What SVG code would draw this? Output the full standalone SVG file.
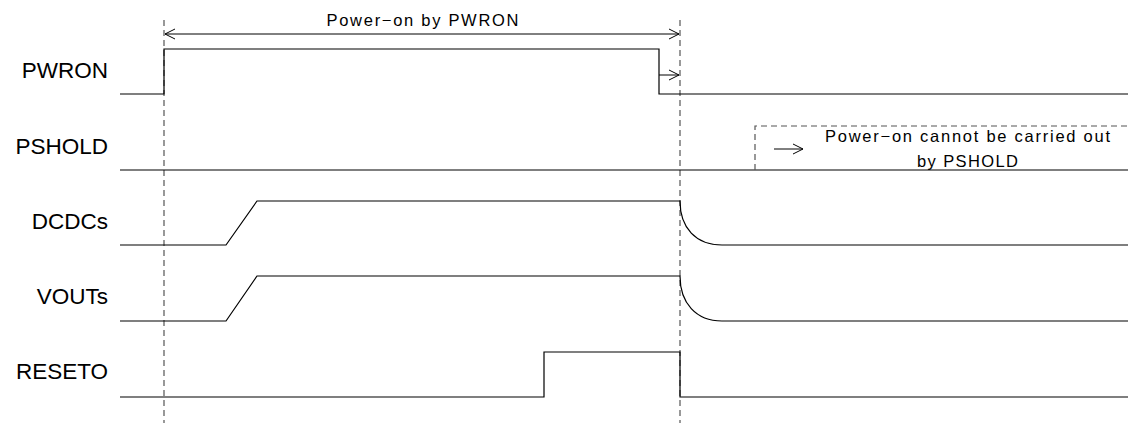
<svg xmlns="http://www.w3.org/2000/svg" width="1131" height="423" viewBox="0 0 1131 423">
<defs>
<style>
.sig{fill:none;stroke:#000;stroke-width:1.2}
.dash{fill:none;stroke:#555;stroke-width:1.2;stroke-dasharray:6,4}
.lbl{font-family:"Liberation Sans",Arial,sans-serif;font-size:22.5px;fill:#000;text-anchor:end}
.note{font-family:"Liberation Sans","Noto Sans CJK JP",sans-serif;font-size:16.5px;fill:#000;text-anchor:middle}
.arr{fill:none;stroke:#000;stroke-width:1}
</style>
<marker id="ah" markerWidth="12" markerHeight="12" refX="11" refY="6" orient="auto-start-reverse" markerUnits="userSpaceOnUse">
<path d="M1,1 L11,6 L1,11" fill="none" stroke="#000" stroke-width="1"/>
</marker>
</defs>
<rect width="1131" height="423" fill="#fff"/>
<g id="labels">
<text class="lbl" x="108" y="78">PWRON</text>
<text class="lbl" x="108" y="154">PSHOLD</text>
<text class="lbl" x="108" y="229">DCDCs</text>
<text class="lbl" x="108" y="304">VOUTs</text>
<text class="lbl" x="108" y="379">RESETO</text>
</g>
<g id="guides">
<line class="dash" x1="164" y1="20" x2="164" y2="423"/>
<line class="dash" x1="680" y1="20" x2="680" y2="423"/>
</g>
<g id="PWRON">
<path class="sig" d="M120,94 H164 V49 H659 V94 H1128"/>
</g>
<g id="PSHOLD">
<path class="sig" d="M120,170 H1128"/>
</g>
<g id="DCDCs">
<path class="sig" d="M120,245 H226 L257,201 H680 C680,228 696,245 722,245 H1128"/>
</g>
<g id="VOUTs">
<path class="sig" d="M120,321 H226 L257,276 H680 C680,303 696,321 722,321 H1128"/>
</g>
<g id="RESETO">
<path class="sig" d="M120,397 H544 V352 H680 V397 H1128"/>
</g>
<g id="annotations">
<line class="arr" x1="165" y1="34" x2="679" y2="34" marker-start="url(#ah)" marker-end="url(#ah)"/>
<text class="note" x="422.5" y="26" textLength="192" lengthAdjust="spacing">Power−on by PWRON</text>
<line class="arr" x1="659" y1="75" x2="679" y2="75" marker-end="url(#ah)"/>
<path class="dash" d="M755,170 V126 H1131"/>
<line class="arr" x1="774" y1="149" x2="803" y2="149" marker-end="url(#ah)"/>
<text class="note" x="967.5" y="142" textLength="285" lengthAdjust="spacing">Power−on cannot be carried out</text>
<text class="note" x="967.5" y="167" textLength="101" lengthAdjust="spacing">by PSHOLD</text>
</g>
</svg>
